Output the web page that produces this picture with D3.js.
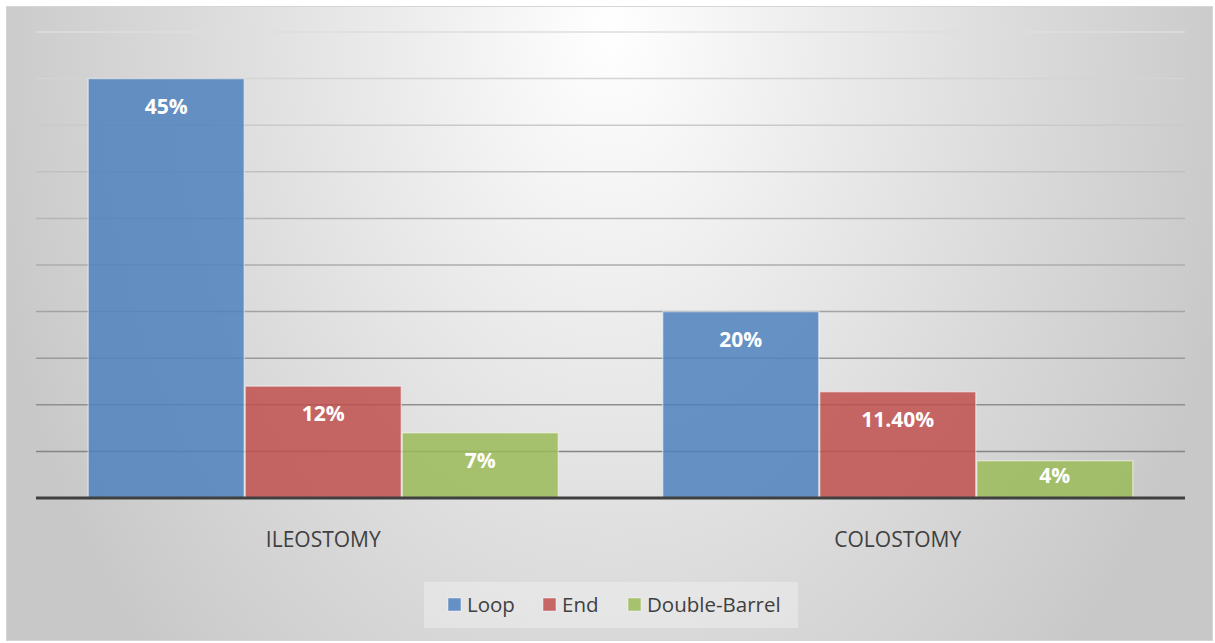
<!DOCTYPE html>
<html>
<head>
<meta charset="utf-8">
<script src="https://cdn.jsdelivr.net/npm/d3@7/dist/d3.min.js"></script>
<style>
  html, body { margin: 0; padding: 0; background: #ffffff; }
  svg { display: block; }
</style>
</head>
<body>
<svg id="chart" width="1215" height="643"></svg>
<script>
// Stoma types by procedure
const categories = ["ILEOSTOMY", "COLOSTOMY"];
const seriesNames = ["Loop", "End", "Double-Barrel"];
const loopValues = [45, 20];
const endValues = [12, 11.4];
const doubleBarrelValues = [7, 4];
const valueLabels = [["45%", "20%"], ["12%", "11.40%"], ["7%", "4%"]];
const gridTicks = [5, 10, 15, 20, 25, 30, 35, 40, 45, 50];

const seriesValues = [loopValues, endValues, doubleBarrelValues];
const colors = ["#4f81bd", "#c0504d", "#9bbb59"];

const svg = d3.select("#chart");
const font = "'Open Sans', 'Liberation Sans', sans-serif";

// background: elliptical radial gradient, bright near the top centre
const defs = svg.append("defs");
const rg = defs.append("radialGradient")
  .attr("id", "bg")
  .attr("gradientUnits", "userSpaceOnUse")
  .attr("cx", 0).attr("cy", 0).attr("r", 1)
  .attr("gradientTransform", "translate(610,30) scale(640,900)");
[[0, "#ffffff"], [0.33, "#ececec"], [0.66, "#dadada"], [0.95, "#cbcbcb"], [1, "#c8c8c8"]]
  .forEach(([o, c]) => rg.append("stop").attr("offset", o).attr("stop-color", c));

svg.append("rect")
  .attr("x", 6.5).attr("y", 6.5)
  .attr("width", 1206).attr("height", 634)
  .attr("fill", "url(#bg)")
  .attr("stroke", "#d6d6d6").attr("stroke-width", 1);

const plot = { left: 36, right: 1185, top: 32, bottom: 498 };

const x0 = d3.scaleBand()
  .domain(categories)
  .range([plot.left, plot.right])
  .paddingInner(0.18).paddingOuter(0.09);

const x1 = d3.scaleBand()
  .domain(seriesNames)
  .range([0, x0.bandwidth()]);

const y = d3.scaleLinear().domain([0, 50]).range([plot.bottom, plot.top]);

// gridlines, darker toward the baseline
const gridColor = d3.scaleLinear().domain([5, 50]).range(["#858585", "#dedede"]);
svg.append("g")
  .selectAll("line")
  .data(gridTicks)
  .join("line")
  .attr("x1", plot.left).attr("x2", plot.right)
  .attr("y1", d => y(d)).attr("y2", d => y(d))
  .attr("stroke", d => gridColor(d))
  .attr("stroke-width", 1.5);

// bars
const groups = svg.append("g")
  .selectAll("g")
  .data(categories)
  .join("g")
  .attr("transform", d => `translate(${x0(d)},0)`);

const cellData = (c, ci) => seriesNames.map((s, si) => ({ s, si, v: seriesValues[si][ci], label: valueLabels[si][ci] }));

groups.selectAll("rect")
  .data(cellData)
  .join("rect")
  .attr("x", d => x1(d.s) + 0.5)
  .attr("width", x1.bandwidth() - 1)
  .attr("y", d => y(d.v))
  .attr("height", d => y(0) - y(d.v))
  .attr("fill", d => colors[d.si])
  .attr("fill-opacity", 0.85)
  .attr("stroke", "#ffffff")
  .attr("stroke-opacity", 0.45)
  .attr("stroke-width", 1.5);

// value labels inside the bar end, kept clear of the baseline
groups.selectAll("text")
  .data(cellData)
  .join("text")
  .attr("x", d => x1(d.s) + x1.bandwidth() / 2)
  .attr("y", d => Math.min(y(d.v) + 35, y(0) - 15))
  .attr("text-anchor", "middle")
  .attr("fill", "#ffffff")
  .attr("font-family", font)
  .attr("font-weight", "bold")
  .attr("font-size", 21)
  .text(d => d.label);

// baseline axis
const xAxis = d3.axisBottom(x0).tickSize(0).tickPadding(0);
const axisG = svg.append("g")
  .attr("transform", `translate(0,${plot.bottom})`)
  .call(xAxis);
axisG.select(".domain")
  .attr("d", `M${plot.left},0H${plot.right}`)
  .attr("stroke", "#404040")
  .attr("stroke-width", 3);
axisG.selectAll(".tick text")
  .attr("dy", 0)
  .attr("y", 49)
  .attr("fill", "#404040")
  .attr("font-family", font)
  .attr("font-size", 21);

// legend
const legend = svg.append("g");
legend.append("rect")
  .attr("x", 424).attr("y", 582)
  .attr("width", 374).attr("height", 46)
  .attr("fill", "#ffffff").attr("fill-opacity", 0.3);

const legendX = [448, 543, 628];
const items = legend.selectAll("g")
  .data(seriesNames)
  .join("g")
  .attr("transform", (d, i) => `translate(${legendX[i]},598)`);
items.append("rect")
  .attr("width", 13).attr("height", 13)
  .attr("fill", (d, i) => colors[i])
  .attr("fill-opacity", 0.85)
  .attr("stroke", "#ffffff").attr("stroke-opacity", 0.45);
items.append("text")
  .attr("x", 19).attr("y", 14)
  .attr("fill", "#404040")
  .attr("font-family", font)
  .attr("font-size", 20.5)
  .text(d => d);
</script>
</body>
</html>
